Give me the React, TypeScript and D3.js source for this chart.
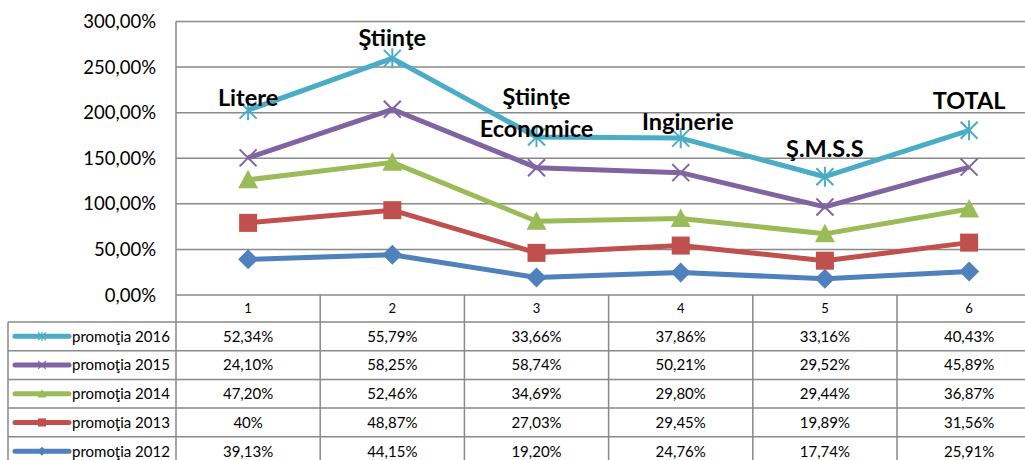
import React from 'react';
import * as d3 from 'd3';

const categories = ['1', '2', '3', '4', '5', '6'];
const groupLabels = [['Litere'], ['Ştiinţe'], ['Ştiinţe', 'Economice'], ['Inginerie'], ['Ş.M.S.S'], ['TOTAL']];
const seriesNames = ['promoţia 2012', 'promoţia 2013', 'promoţia 2014', 'promoţia 2015', 'promoţia 2016'];
const v2012 = [39.13, 44.15, 19.2, 24.76, 17.74, 25.91];
const v2013 = [40, 48.87, 27.03, 29.45, 19.89, 31.56];
const v2014 = [47.2, 52.46, 34.69, 29.8, 29.44, 36.87];
const v2015 = [24.1, 58.25, 58.74, 50.21, 29.52, 45.89];
const v2016 = [52.34, 55.79, 33.66, 37.86, 33.16, 40.43];
const cellText2012 = ['39,13%', '44,15%', '19,20%', '24,76%', '17,74%', '25,91%'];
const cellText2013 = ['40%', '48,87%', '27,03%', '29,45%', '19,89%', '31,56%'];
const cellText2014 = ['47,20%', '52,46%', '34,69%', '29,80%', '29,44%', '36,87%'];
const cellText2015 = ['24,10%', '58,25%', '58,74%', '50,21%', '29,52%', '45,89%'];
const cellText2016 = ['52,34%', '55,79%', '33,66%', '37,86%', '33,16%', '40,43%'];
const yTicks = [0, 50, 100, 150, 200, 250, 300];

const seriesValues = [v2012, v2013, v2014, v2015, v2016];
const cellTexts = [cellText2012, cellText2013, cellText2014, cellText2015, cellText2016];
const colors = ['#4F81BD', '#C0504D', '#9BBB59', '#8064A2', '#4BACC6'];
const markers = ['diamond', 'square', 'triangle', 'x', 'star'];

// label layout offsets (dx, baseline dy relative to top point)
const labelOffsets = [
  [0, -4],
  [0, -12],
  [0, -32],
  [7, -8],
  [0, -20],
  [0, -21],
];

const W = 1025;
const H = 460;
const plotLeft = 176;
const colW = 144.2;
const plotRight = plotLeft + colW * 6;
const y0 = 295;
const yTop = 21.5;
const headerBottom = 322;
const rowH = 28.7;
const gridColor = '#898989';
const font = 'Lato, "Open Sans", sans-serif';

function Marker({ type, x, y, color, s }: { type: string; x: number; y: number; color: string; s: number }) {
  if (type === 'diamond') {
    return <path d={`M${x},${y - s}L${x + s},${y}L${x},${y + s}L${x - s},${y}Z`} fill={color} />;
  }
  if (type === 'square') {
    return <rect x={x - s * 0.9} y={y - s * 0.9} width={s * 1.8} height={s * 1.8} fill={color} />;
  }
  if (type === 'triangle') {
    return <path d={`M${x},${y - s}L${x + s},${y + s * 0.85}L${x - s},${y + s * 0.85}Z`} fill={color} />;
  }
  const k = s * 0.85;
  const sw = Math.max(1.2, s / 5);
  if (type === 'x') {
    return (
      <g stroke={color} strokeWidth={sw}>
        <line x1={x - k} y1={y - k} x2={x + k} y2={y + k} />
        <line x1={x - k} y1={y + k} x2={x + k} y2={y - k} />
      </g>
    );
  }
  return (
    <g stroke={color} strokeWidth={sw}>
      <line x1={x - k} y1={y - k} x2={x + k} y2={y + k} />
      <line x1={x - k} y1={y + k} x2={x + k} y2={y - k} />
      <line x1={x} y1={y - s} x2={x} y2={y + s} />
    </g>
  );
}

export default function App() {
  const x = d3
    .scaleBand<string>()
    .domain(categories)
    .range([plotLeft, plotRight]);
  const y = d3.scaleLinear().domain([0, 300]).range([y0, yTop]);

  // stacked cumulative values
  const stacked: number[][] = [];
  seriesValues.forEach((vals, si) => {
    stacked.push(vals.map((v, i) => v + (si > 0 ? stacked[si - 1][i] : 0)));
  });

  const line = d3
    .line<number>()
    .x((_, i) => (x(categories[i]) as number) + x.bandwidth() / 2)
    .y((d) => y(d));

  const tableRows = [4, 3, 2, 1, 0];

  return (
    <svg width={W} height={H} style={{ position: 'absolute', left: 0, top: 0, background: '#fff' }}>
      <rect x={0} y={0} width={W} height={H} fill="#fff" />
      {/* gridlines */}
      {yTicks.map((t) => (
        <line key={t} x1={plotLeft} x2={W} y1={y(t)} y2={y(t)} stroke={gridColor} strokeWidth={1.5} />
      ))}
      {/* y labels */}
      {yTicks.map((t) => (
        <text
          key={'l' + t}
          x={156}
          y={y(t)}
          dy="0.36em"
          textAnchor="end"
          fontFamily={font}
          fontSize={18.5}
          fill="#000"
        >
          {d3.format('.2f')(t).replace('.', ',') + '%'}
        </text>
      ))}
      {/* left axis */}
      <line x1={plotLeft} x2={plotLeft} y1={yTop} y2={H} stroke={gridColor} strokeWidth={1.5} />
      {/* table lines */}
      <line x1={plotLeft} x2={W} y1={headerBottom} y2={headerBottom} stroke={gridColor} strokeWidth={1.5} />
      {tableRows.map((_, r) => (
        <line
          key={'r' + r}
          x1={8}
          x2={W}
          y1={headerBottom + rowH * (r + 1)}
          y2={headerBottom + rowH * (r + 1)}
          stroke={gridColor}
          strokeWidth={1.5}
        />
      ))}
      <line x1={8} x2={plotLeft} y1={headerBottom} y2={headerBottom} stroke={gridColor} strokeWidth={1.5} />
      <line x1={8} x2={8} y1={headerBottom} y2={H} stroke={gridColor} strokeWidth={1.5} />
      {categories.slice(1).map((c) => (
        <line
          key={'v' + c}
          x1={x(c) as number}
          x2={x(c) as number}
          y1={y0}
          y2={H}
          stroke={gridColor}
          strokeWidth={1.5}
        />
      ))}
      {/* header numbers */}
      {categories.map((c) => (
        <text
          key={'h' + c}
          x={(x(c) as number) + x.bandwidth() / 2}
          y={(y0 + headerBottom) / 2}
          dy="0.36em"
          textAnchor="middle"
          fontFamily={font}
          fontSize={13}
          fill="#000"
        >
          {c}
        </text>
      ))}
      {/* table rows */}
      {tableRows.map((si, r) => {
        const cy = headerBottom + rowH * r + rowH / 2;
        return (
          <g key={'row' + si}>
            <line x1={15} x2={69} y1={cy} y2={cy} stroke={colors[si]} strokeWidth={5} strokeLinecap="round" />
            <Marker type={markers[si]} x={42} y={cy} color={colors[si]} s={4.5} />
            <text x={72} y={cy} dy="0.36em" fontFamily={font} fontSize={15} fill="#000">
              {seriesNames[si]}
            </text>
            {cellTexts[si].map((t, i) => (
              <text
                key={i}
                x={(x(categories[i]) as number) + x.bandwidth() / 2}
                y={cy}
                dy="0.36em"
                textAnchor="middle"
                fontFamily={font}
                fontSize={15}
                fill="#000"
              >
                {t}
              </text>
            ))}
          </g>
        );
      })}
      {/* lines */}
      {stacked.map((vals, si) => (
        <path key={'p' + si} d={line(vals) || ''} fill="none" stroke={colors[si]} strokeWidth={5} strokeLinejoin="round" />
      ))}
      {stacked.map((vals, si) =>
        vals.map((v, i) => (
          <Marker
            key={'m' + si + '-' + i}
            type={markers[si]}
            x={(x(categories[i]) as number) + x.bandwidth() / 2}
            y={y(v)}
            color={colors[si]}
            s={10}
          />
        ))
      )}
      {/* group labels */}
      {groupLabels.map((lines, i) => {
        const top = stacked[stacked.length - 1][i];
        const cx = (x(categories[i]) as number) + x.bandwidth() / 2 + labelOffsets[i][0];
        const by = y(top) + labelOffsets[i][1];
        return (
          <text key={'g' + i} x={cx} y={by} textAnchor="middle" fontFamily={font} fontSize={23.5} fontWeight="bold" fill="#000">
            {lines.map((l, li) => (
              <tspan key={li} x={cx} dy={li === 0 ? 0 : 32}>
                {l}
              </tspan>
            ))}
          </text>
        );
      })}
    </svg>
  );
}
